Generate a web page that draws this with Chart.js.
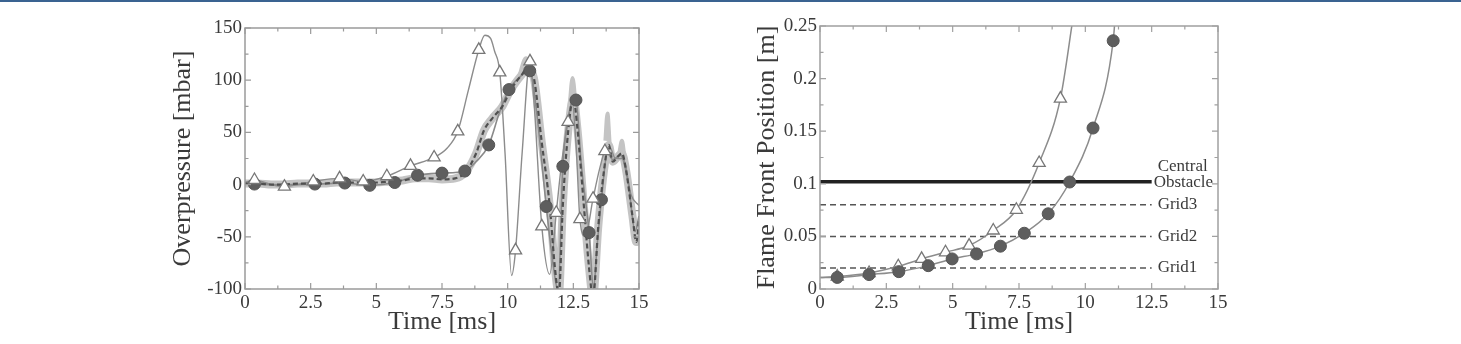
<!DOCTYPE html>
<html>
<head>
<meta charset="utf-8">
<script src="https://cdn.jsdelivr.net/npm/chart.js@4"></script>
<style>
  html, body { margin: 0; padding: 0; background: #fff; }
  body { width: 1461px; height: 344px; position: relative; overflow: hidden; }
  .topbar { position: absolute; left: 0; top: 0; width: 1461px; height: 2px; background: #3a6391; }
  .box { position: absolute; top: 0; width: 520px; height: 344px; }
  #left { left: 160px; }
  #right { left: 740px; }
</style>
</head>
<body>
<div class="topbar"></div>
<div class="box" id="left"><canvas id="pressChart"></canvas></div>
<div class="box" id="right"><canvas id="flameChart"></canvas></div>
<script>
// ---- left chart: overpressure vs time ----
var timeTicks = [0, 2.5, 5, 7.5, 10, 12.5, 15];
var timeTickLabels = ["0", "2.5", "5", "7.5", "10", "12.5", "15"];
var pressTicks = [-100, -50, 0, 50, 100, 150];
var pressTickLabels = ["-100", "-50", "0", "50", "100", "150"];

// experimental mean (dashed) and grey band
var meanT = [0, 0.5, 1, 1.5, 2, 2.5, 3, 3.5, 4, 4.5, 5, 5.5, 6, 6.5, 7, 7.5, 8, 8.4, 8.8, 9.1, 9.4, 9.8, 10.1, 10.5, 10.8, 11.0, 11.3, 11.6, 11.8, 11.95, 12.1, 12.3, 12.5, 12.65, 12.9, 13.1, 13.25, 13.45, 13.65, 13.85, 14.0, 14.2, 14.35, 14.5, 14.75, 14.9, 15.0];
var meanP = [1, 1, 0, 0, 1, 1, 1, 2, 2, 2, 2, 3, 4, 6, 6, 5, 6, 12, 30, 52, 63, 75, 90, 104, 112, 102, 40, -20, -80, -105, -20, 50, 83, 55, -20, -80, -108, -40, 10, 38, 22, 27, 30, 15, -30, -55, -35];
// spikes of the band above the mean (null breaks the trace)
var bandTopT = [10.4, 10.7, 10.95, 11.0, 12.35, 12.47, 12.6, 12.7, 13.72, 13.8, 13.88, 13.95, 14.25, 14.35, 14.45];
var bandTopP = [100, 121, 106, null, 72, 102, 72, null, 42, 68, 40, null, 30, 42, 25];

// simulation with circles
var circT = [0, 0.36, 1.5, 2.66, 3.8, 4.75, 5.7, 6.57, 7.5, 8.37, 8.8, 9.28, 9.7, 10.05, 10.5, 10.84, 11.1, 11.47, 11.75, 11.92, 12.1, 12.35, 12.6, 12.8, 13.1, 13.27, 13.4, 13.57, 13.8, 14.0, 14.3, 14.6, 14.85, 15.0];
var circP = [1, 0.5, 0, 0.5, 1.5, -0.7, 2, 9, 11, 13, 22, 38, 70, 91, 104, 109, 70, -21, -80, -102, 17.5, 70, 81, 20, -46, -100, -60, -14.5, 30, 24, 28, 0, -45, -30];
var circMarkT = [0.36, 2.66, 3.8, 4.75, 5.7, 6.57, 7.5, 8.37, 9.28, 10.05, 10.84, 11.47, 12.1, 12.6, 13.1, 13.57];
var circMarkP = [0.5, 0.5, 1.5, -0.7, 2, 9, 11, 13, 38, 91, 109, -21, 17.5, 81, -46, -14.5];

// simulation with triangles
var triT = [0, 0.36, 1.0, 1.5, 2.0, 2.6, 3.6, 4.5, 5.4, 6.3, 7.2, 7.7, 8.1, 8.5, 8.9, 9.13, 9.35, 9.5, 9.7, 9.9, 10.15, 10.3, 10.55, 10.85, 11.0, 11.3, 11.6, 11.85, 12.05, 12.3, 12.45, 12.6, 12.75, 12.95, 13.25, 13.5, 13.7, 13.9, 14.1, 14.4, 14.7, 15.0];
var triP = [2, 4.4, 0, -2, 0, 3, 6, 3, 8, 18, 26, 35, 51, 90, 129, 143, 140, 128, 107.5, 30, -87, -63, 30, 118, 80, -40, -86, -27, 20, 60, 80, 40, -33, -50, -13.5, 15, 32, 35, 25, 25, -10, -20];
var triMarkT = [0.36, 1.5, 2.6, 3.6, 4.5, 5.4, 6.3, 7.2, 8.1, 8.9, 9.7, 10.3, 10.85, 11.3, 11.85, 12.3, 12.75, 13.25, 13.7];
var triMarkP = [4.4, -2, 3, 6, 3, 8, 18, 26, 51, 129, 107.5, -63, 118, -40, -27, 60, -33, -13.5, 32];

// ---- right chart: flame front position ----
var posTicks = [0, 0.05, 0.1, 0.15, 0.2, 0.25];
var posTickLabels = ["0", "0.05", "0.1", "0.15", "0.2", "0.25"];
var fTriT = [0, 0.65, 1.85, 2.95, 3.83, 4.73, 5.62, 6.53, 7.4, 8.26, 9.06, 9.55];
var fTriY = [0.011, 0.0118, 0.0152, 0.0216, 0.0286, 0.0349, 0.0413, 0.0556, 0.0753, 0.1198, 0.181, 0.26];
var fCircT = [0, 0.65, 1.85, 2.97, 4.08, 4.98, 5.9, 6.8, 7.7, 8.6, 9.41, 10.29, 11.05, 11.13];
var fCircY = [0.011, 0.011, 0.0137, 0.0165, 0.0222, 0.0286, 0.0334, 0.0407, 0.053, 0.0715, 0.1017, 0.153, 0.236, 0.26];
var gridNames = ["Grid1", "Grid2", "Grid3"];
var gridLevels = [0.02, 0.05, 0.08];
var obstacleLevel = 0.102;
var obstacleNames = ["Central", "Obstacle"];
var levelEnd = 12.5;

function pts(xs, ys) {
  return xs.map(function (x, i) { return { x: x, y: ys[i] }; });
}

var serif = "'Liberation Serif', 'DejaVu Serif', serif";
var textCol = "#3a3a3a";

// frame on all four sides plus inward major/minor ticks
var frameTicks = {
  id: "frameTicks",
  afterDatasetsDraw: function (chart, args, opts) {
    var c = chart.ctx, a = chart.chartArea;
    var xs = chart.scales.x, ys = chart.scales.y;
    c.save();
    c.strokeStyle = opts.color;
    c.lineWidth = 1.5;
    c.strokeRect(a.left, a.top, a.right - a.left, a.bottom - a.top);
    c.lineWidth = 1.2;
    function tickSet(vals) {
      var out = [];
      for (var i = 0; i < vals.length; i++) {
        out.push([vals[i], 6]);
        if (i < vals.length - 1) out.push([(vals[i] + vals[i + 1]) / 2, 3.5]);
      }
      return out;
    }
    c.beginPath();
    tickSet(opts.xVals).forEach(function (t) {
      var px = xs.getPixelForValue(t[0]);
      c.moveTo(px, a.bottom); c.lineTo(px, a.bottom - t[1]);
      c.moveTo(px, a.top); c.lineTo(px, a.top + t[1]);
    });
    tickSet(opts.yVals).forEach(function (t) {
      var py = ys.getPixelForValue(t[0]);
      c.moveTo(a.left, py); c.lineTo(a.left + t[1], py);
      c.moveTo(a.right, py); c.lineTo(a.right - t[1], py);
    });
    c.stroke();
    c.restore();
  }
};

// labels for the horizontal reference lines
var levelLabels = {
  id: "levelLabels",
  afterDatasetsDraw: function (chart) {
    if (chart.canvas.id !== "flameChart") return;
    var c = chart.ctx, xs = chart.scales.x, ys = chart.scales.y;
    var x0 = xs.getPixelForValue(levelEnd);
    c.save();
    c.fillStyle = textCol;
    c.font = "17px " + serif;
    c.textBaseline = "middle";
    gridNames.forEach(function (n, i) {
      c.fillText(n, x0 + 6, ys.getPixelForValue(gridLevels[i]));
    });
    var yo = ys.getPixelForValue(obstacleLevel);
    c.fillText(obstacleNames[0], x0 + 6, yo - 15);
    c.fillText(obstacleNames[1], x0 + 2, yo + 1);
    c.restore();
  }
};

function axisX() {
  return {
    type: "linear",
    min: 0, max: 15,
    afterBuildTicks: function (s) { s.ticks = timeTicks.map(function (v) { return { value: v }; }); },
    afterFit: function (s) { s.height = 55; },
    grid: { display: false, drawTicks: false },
    border: { display: false },
    ticks: {
      padding: 3,
      color: textCol,
      font: { family: serif, size: 19 },
      maxRotation: 0,
      autoSkip: false,
      callback: function (v) { return timeTickLabels[timeTicks.indexOf(v)]; }
    },
    title: {
      display: true,
      text: "Time [ms]",
      color: textCol,
      font: { family: serif, size: 26 },
      padding: { top: 0, bottom: 6 }
    }
  };
}

function axisY(min, max, vals, labels, width, title, tpad) {
  return {
    type: "linear",
    min: min, max: max,
    afterBuildTicks: function (s) { s.ticks = vals.map(function (v) { return { value: v }; }); },
    afterFit: function (s) { s.width = width; },
    grid: { display: false, drawTicks: false },
    border: { display: false },
    ticks: {
      padding: 3,
      color: textCol,
      font: { family: serif, size: 19 },
      autoSkip: false,
      callback: function (v) {
        var i = vals.findIndex(function (t) { return Math.abs(t - v) < 1e-9; });
        return labels[i];
      }
    },
    title: {
      display: true,
      text: title,
      color: textCol,
      font: { family: serif, size: 26 },
      padding: { top: tpad, bottom: 0 }
    }
  };
}

var common = {
  responsive: false,
  animation: false,
  events: [],
  plugins: { legend: { display: false }, tooltip: { enabled: false } }
};

// note: Chart.js paints the first dataset on top, so markers come first
var ctx = document.getElementById("pressChart");
ctx.width = 520; ctx.height = 344;
new Chart(ctx, {
  type: "line",
  data: {
    datasets: [
      { data: pts(triMarkT, triMarkP), showLine: false, pointStyle: "triangle", pointRadius: 7, pointBackgroundColor: "#fff", pointBorderColor: "#777", pointBorderWidth: 1.3 },
      { data: pts(circMarkT, circMarkP), showLine: false, pointStyle: "circle", pointRadius: 6, pointBackgroundColor: "#5e5e5e", pointBorderColor: "#555", pointBorderWidth: 1 },
      { data: pts(meanT, meanP), borderColor: "#505050", borderWidth: 2.2, borderDash: [5, 3], pointRadius: 0, cubicInterpolationMode: "monotone" },
      { data: pts(circT, circP), borderColor: "#8a8a8a", borderWidth: 1.6, pointRadius: 0, cubicInterpolationMode: "monotone" },
      { data: pts(triT, triP), borderColor: "#8c8c8c", borderWidth: 1.4, pointRadius: 0, cubicInterpolationMode: "monotone" },
      { data: pts(bandTopT, bandTopP), borderColor: "#c4c4c4", borderWidth: 4, pointRadius: 0, spanGaps: false, cubicInterpolationMode: "monotone" },
      { data: pts(meanT, meanP), borderColor: "#c4c4c4", borderWidth: 8, pointRadius: 0, cubicInterpolationMode: "monotone" }
    ]
  },
  options: Object.assign({}, common, {
    layout: { padding: { left: 0, top: 28, right: 41, bottom: 0 } },
    scales: {
      x: axisX(),
      y: axisY(-100, 150, pressTicks, pressTickLabels, 85, "Overpressure [mbar]", 8)
    },
    plugins: Object.assign({}, common.plugins, {
      frameTicks: { color: "#9a9a9a", xVals: timeTicks, yVals: pressTicks }
    })
  }),
  plugins: [frameTicks]
});

var ctx2 = document.getElementById("flameChart");
ctx2.width = 520; ctx2.height = 344;
var levelSets = gridLevels.map(function (g) {
  return { data: pts([0, levelEnd], [g, g]), borderColor: "#555", borderWidth: 1.5, borderDash: [6, 4], pointRadius: 0 };
});
new Chart(ctx2, {
  type: "line",
  data: {
    datasets: [
      { data: pts(fCircT, fCircY), borderColor: "#8c8c8c", borderWidth: 1.5, cubicInterpolationMode: "monotone",
        pointStyle: "circle", pointBackgroundColor: "#5e5e5e", pointBorderColor: "#555", pointBorderWidth: 1,
        pointRadius: function (c) { return (c.dataIndex === 0 || c.dataIndex === fCircT.length - 1) ? 0 : 6; } },
      { data: pts(fTriT, fTriY), borderColor: "#8c8c8c", borderWidth: 1.5, cubicInterpolationMode: "monotone",
        pointStyle: "triangle", pointBackgroundColor: "#fff", pointBorderColor: "#777", pointBorderWidth: 1.3,
        pointRadius: function (c) { return (c.dataIndex === 0 || c.dataIndex === fTriT.length - 1) ? 0 : 7; } },
      { data: pts([0, levelEnd], [obstacleLevel, obstacleLevel]), borderColor: "#222", borderWidth: 3.5, pointRadius: 0 }
    ].concat(levelSets)
  },
  options: Object.assign({}, common, {
    layout: { padding: { left: 0, top: 26, right: 42, bottom: 0 } },
    scales: {
      x: axisX(),
      y: axisY(0, 0.25, posTicks, posTickLabels, 80, "Flame Front Position [m]", 12)
    },
    plugins: Object.assign({}, common.plugins, {
      frameTicks: { color: "#a0a0a0", xVals: timeTicks, yVals: posTicks }
    })
  }),
  plugins: [frameTicks, levelLabels]
});
</script>
</body>
</html>
